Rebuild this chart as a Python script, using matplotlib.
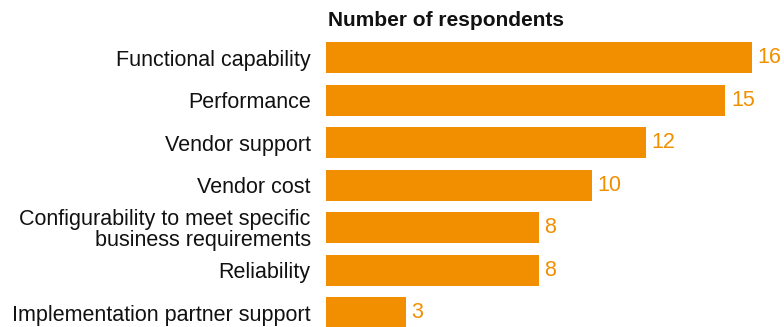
import matplotlib.pyplot as plt

# respondents per selection criterion
criteria = [
    "Functional capability",
    "Performance",
    "Vendor support",
    "Vendor cost",
    "Configurability to meet specific\nbusiness requirements",
    "Reliability",
    "Implementation partner support",
]
respondents = [16, 15, 12, 10, 8, 8, 3]

orange = "#F18F00"
plt.rcParams['font.family'] = ['Liberation Sans', 'DejaVu Sans']

fig = plt.figure(figsize=(7.84, 3.27), dpi=100)
ax = fig.add_axes([326 / 784, 0, 458 / 784, 291 / 327])

pos = list(range(len(criteria)))
ax.barh(pos, respondents, height=0.73, color=orange)

for y, v in zip(pos, respondents):
    ax.annotate(str(v), (v, y), xytext=(4, 0), textcoords="offset points",
                va="center", ha="left", color=orange, fontsize=15.5)

ax.set_yticks(pos)
ax.set_yticklabels(criteria, fontsize=15.5, linespacing=0.95, color="#111111")
ax.tick_params(axis="y", length=0, pad=11)
ax.set_xticks([])
ax.set_xlim(0, 16 * 458 / 426)
ax.set_ylim(6.33, -0.505)
for s in ax.spines.values():
    s.set_visible(False)

fig.text(328 / 784, 1 - 20 / 327, "Number of respondents", fontsize=15,
         fontweight="bold", va="center", ha="left", color="#111111")

fig.savefig("out.png", dpi=100)
